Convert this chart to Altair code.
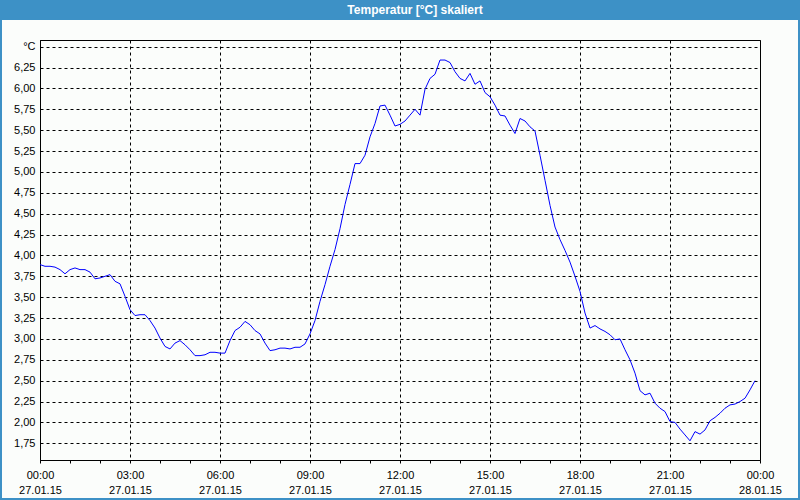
import altair as alt
import pandas as pd

# Temperature readings every 10 minutes, 27.01.15 00:00 .. 23:50
temps = [
    3.89, 3.87, 3.87, 3.86, 3.83, 3.78, 3.83, 3.85, 3.83, 3.83,
    3.80, 3.72, 3.73, 3.75, 3.77, 3.69, 3.66, 3.51, 3.35, 3.28,
    3.29, 3.29, 3.22, 3.13, 3.01, 2.91, 2.88, 2.95, 2.98, 2.93,
    2.87, 2.80, 2.80, 2.81, 2.84, 2.84, 2.83, 2.83, 2.98, 3.10,
    3.14, 3.21, 3.17, 3.10, 3.06, 2.95, 2.86, 2.87, 2.89, 2.89,
    2.88, 2.90, 2.90, 2.94, 3.06, 3.22, 3.45, 3.65, 3.87, 4.07,
    4.32, 4.61, 4.85, 5.10, 5.10, 5.20, 5.42, 5.58, 5.79, 5.80,
    5.68, 5.55, 5.57, 5.61, 5.68, 5.75, 5.68, 5.99, 6.12, 6.17,
    6.34, 6.34, 6.31, 6.20, 6.12, 6.09, 6.18, 6.05, 6.09, 5.95,
    5.90, 5.80, 5.68, 5.67, 5.56, 5.46, 5.64, 5.61, 5.54, 5.49,
    5.20, 4.90, 4.60, 4.34, 4.19, 4.06, 3.92, 3.75, 3.57, 3.31,
    3.13, 3.16, 3.12, 3.09, 3.05, 2.99, 3.00, 2.87, 2.75, 2.59,
    2.38, 2.33, 2.35, 2.23, 2.17, 2.13, 2.01, 2.00, 1.92, 1.85,
    1.78, 1.89, 1.86, 1.91, 2.02, 2.06, 2.11, 2.17, 2.21, 2.22,
    2.25, 2.29, 2.39, 2.50,
]

y_ticks = [1.75, 2.00, 2.25, 2.50, 2.75, 3.00, 3.25, 3.50, 3.75, 4.00,
           4.25, 4.50, 4.75, 5.00, 5.25, 5.50, 5.75, 6.00, 6.25, 6.50]
y_domain = [1.55, 6.58]
title_text = "Temperatur [°C] skaliert"

start = pd.Timestamp("2015-01-27 00:00", tz="UTC")
times = [(start + pd.Timedelta(minutes=10 * i)).strftime("%Y-%m-%dT%H:%M:%SZ")
         for i in range(len(temps))]
start_ms = int(start.value // 10**6)
hour_ticks = [start_ms + h * 3600000 for h in range(25)]

df = pd.DataFrame({"t": times, "v": temps})

FONT = "Liberation Sans"
BLUE = "#3d91c6"

x_axis = alt.Axis(
    values=hour_ticks,
    labelExpr="utchours(datum.value) % 3 == 0 ? [utcFormat(datum.value, '%H:%M'), utcFormat(datum.value, '%d.%m.%y')] : ''",
    grid=True,
    gridColor="black",
    gridDash=[3, 3],
    gridWidth=1,
    gridOpacity={"condition": {"test": "utchours(datum.value) % 3 == 0", "value": 1}, "value": 0},
    domainColor="black",
    tickColor="black",
    tickSize=3,
    labelFont=FONT,
    labelFontSize=11,
    labelColor="black",
    labelPadding=6,
    labelLineHeight=15,
    labelAlign="center",
    labelBaseline="top",
    labelOverlap=False,
    labelFlush=False,
    labelBound=False,
    title=None,
)

y_axis = alt.Axis(
    values=y_ticks,
    labelExpr="datum.value > 6.4 ? '°C' : replace(format(datum.value, '.2f'), '.', ',')",
    grid=True,
    gridColor="black",
    gridDash=[3, 3],
    gridWidth=1,
    ticks=False,
    domainColor="black",
    labelFont=FONT,
    labelFontSize=11,
    labelColor="black",
    labelPadding=5,
    labelOverlap=False,
    labelFlush=False,
    labelBound=False,
    title=None,
)

line = alt.Chart(df).mark_line(color="#0000ff", strokeWidth=1).encode(
    x=alt.X("t:T", scale=alt.Scale(type="utc", domain=[hour_ticks[0], hour_ticks[-1]]), axis=x_axis),
    y=alt.Y("v:Q", scale=alt.Scale(domain=y_domain, nice=False, zero=False), axis=y_axis),
)

one = alt.Data(values=[{}])

title_bar = alt.Chart(one).mark_rect(color=BLUE).encode(
    x=alt.value(-40), x2=alt.value(760), y=alt.value(-40), y2=alt.value(-20)
)
title = alt.Chart(one).mark_text(
    text=title_text, font=FONT, fontSize=12, fontWeight="bold", color="white",
    align="center", baseline="middle"
).encode(x=alt.value(375), y=alt.value(-30))

left_edge = alt.Chart(one).mark_rect(color=BLUE).encode(
    x=alt.value(-40), x2=alt.value(-38), y=alt.value(-20), y2=alt.value(460)
)
right_edge = alt.Chart(one).mark_rect(color=BLUE).encode(
    x=alt.value(758), x2=alt.value(760), y=alt.value(-20), y2=alt.value(460)
)
bottom_edge = alt.Chart(one).mark_rect(color=BLUE).encode(
    x=alt.value(-40), x2=alt.value(760), y=alt.value(458), y2=alt.value(460)
)

chart = alt.layer(line, title_bar, title, left_edge, right_edge, bottom_edge).properties(
    width=720,
    height=420,
    padding={"left": 40, "top": 40, "right": 40, "bottom": 40},
    autosize=alt.AutoSizeParams(type="none"),
    background="#fbfdfb",
).configure_view(stroke="black", strokeWidth=1)

chart.save("out.html", embed_options={"renderer": "svg", "actions": False})
